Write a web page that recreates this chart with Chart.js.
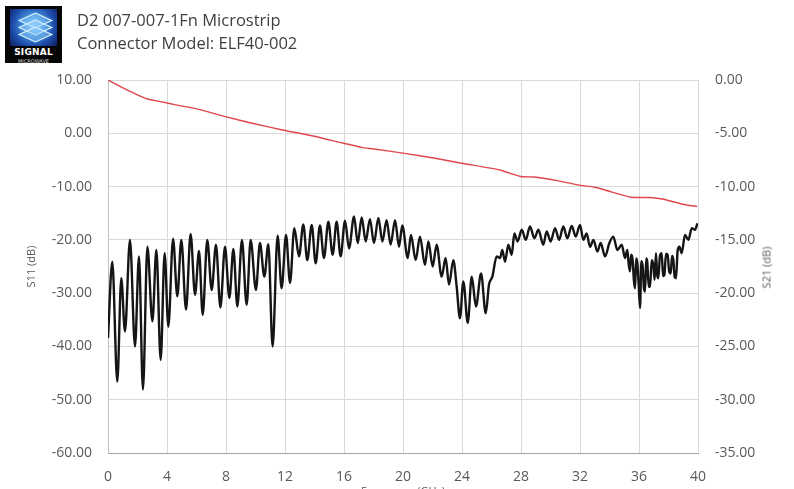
<!DOCTYPE html>
<html>
<head>
<meta charset="utf-8">
<script src="https://cdn.jsdelivr.net/npm/chart.js@4.4.0/dist/chart.umd.min.js"></script>
<style>
	html, body { margin: 0; padding: 0; width: 794px; height: 489px; overflow: hidden; background: #fff; }
	#wrap { position: absolute; left: 0; top: 0; width: 794px; height: 500px; }
	.logo { position: absolute; left: 5px; top: 6px; width: 57px; height: 57px; background: #060606; overflow: hidden; }
	.logo .pic { position: absolute; left: 5px; top: 3px; width: 47px; height: 37px;
		background: radial-gradient(circle at 50% 45%, #9fdcff 0%, #4a9be0 30%, #1f4fae 65%, #0c1d5e 100%); }
	.logo .dia { position: absolute; left: 13px; width: 21px; height: 21px; border: 2px solid #d5efff;
		background: rgba(140, 200, 250, 0.45); transform: scaleY(0.45) rotate(45deg); }
	.logo .big { position: absolute; left: 0; width: 57px; top: 41px; text-align: center; color: #fff;
		font: bold 9px 'DejaVu Sans', sans-serif; letter-spacing: 0.2px; }
	.logo .small { position: absolute; left: 0; width: 57px; top: 52px; text-align: center; color: #ddd;
		font: 5px 'DejaVu Sans', sans-serif; }
	.ttl { position: absolute; left: 77px; font: 16.5px 'Open Sans', sans-serif; color: #3f3f3f; white-space: nowrap; }
	.ytitle2 { position: absolute; left: 726px; top: 260px; width: 80px; text-align: center;
		font: 11px 'Open Sans', sans-serif; color: #595959; transform: rotate(-90deg); }
</style>
</head>
<body>
<div id="wrap"><canvas id="chart1" width="794" height="500"></canvas></div>
<div class="logo">
	<div class="pic">
		<div class="dia" style="top:-1px"></div>
		<div class="dia" style="top:6px"></div>
		<div class="dia" style="top:13px"></div>
	</div>
	<div class="big">SIGNAL</div>
	<div class="small">MICROWAVE</div>
</div>
<div class="ttl" style="top:8px">D2 007-007-1Fn Microstrip</div>
<div class="ttl" style="top:31px">Connector Model: ELF40-002</div>
<div class="ytitle2">S21 (dB)</div>

<script>
// S11 readings (GHz, dB)
var s11Freq = [0, 0.29, 0.63, 0.90, 1.15, 1.49, 1.83, 2.10, 2.37, 2.67, 3.01, 3.28, 3.57, 3.84, 4.09, 4.41, 4.70, 4.97,
	5.29, 5.60, 5.90, 6.17, 6.42, 6.73, 7.03, 7.32, 7.62, 7.93, 8.23, 8.50, 8.77, 9.08, 9.40, 9.67,
	10.03, 10.30, 10.60, 10.87, 11.16, 11.50, 11.77, 12.07, 12.34, 12.63, 12.95, 13.24, 13.51, 13.81, 14.08, 14.37,
	14.64, 14.94, 15.23, 15.50, 15.77, 16.07, 16.34, 16.68, 16.93, 17.20, 17.47, 17.76, 18.03, 18.33, 18.60, 18.89,
	19.16, 19.46, 19.73, 19.95, 20.32, 20.54, 20.86, 21.15, 21.49, 21.72, 22.01, 22.28, 22.62, 22.89, 23.12, 23.41,
	23.64, 23.86, 24.09, 24.39, 24.66, 24.95, 25.29, 25.61, 25.83, 26.06, 26.35, 26.58, 26.73, 26.92, 27.14, 27.37,
	27.55, 27.77, 28.05, 28.32, 28.61, 28.91, 29.18, 29.51, 29.74, 30.01, 30.31, 30.58, 30.87, 31.14, 31.44, 31.71,
	32.00, 32.23, 32.45, 32.68, 32.91, 33.18, 33.40, 33.70, 33.99, 34.26, 34.53, 34.83, 35.05,
	35.21, 35.30, 35.39, 35.47, 35.57, 35.65, 35.73, 35.81, 35.89, 35.98, 36.07, 36.16, 36.25, 36.33, 36.41, 36.49,
	36.56, 36.66, 36.75, 36.86, 36.97, 37.06, 37.15, 37.23, 37.31, 37.42, 37.54, 37.63, 37.72, 37.83, 37.94, 38.05,
	38.15, 38.24, 38.33, 38.42, 38.51, 38.62, 38.74, 38.89, 39.12, 39.35, 39.58, 39.80, 39.96];
var s11Db = [-38.4, -24.1, -46.6, -27.2, -37.2, -20.0, -40.0, -23.1, -48.1, -21.3, -35.3, -21.9, -42.5, -22.5, -36.3, -19.8, -30.6, -20.0,
	-33.1, -18.9, -30.3, -22.1, -34.1, -20.0, -29.4, -20.9, -32.7, -21.3, -30.9, -21.7, -32.5, -20.0, -32.2, -20.0,
	-29.4, -20.6, -26.9, -20.8, -40.0, -19.2, -29.1, -19.1, -28.1, -17.8, -23.1, -17.1, -23.8, -17.2, -24.4, -17.3,
	-23.4, -16.6, -22.8, -16.6, -23.1, -16.4, -21.6, -15.6, -20.6, -15.8, -20.3, -16.1, -20.6, -15.9, -20.3, -16.3,
	-20.9, -16.3, -21.3, -17.3, -23.4, -19.1, -23.8, -19.4, -24.7, -20.3, -25.0, -20.9, -26.9, -23.4, -28.4, -23.8,
	-28.8, -34.7, -27.8, -35.6, -26.9, -32.5, -26.3, -33.8, -28.4, -26.9, -23.1, -23.4, -21.9, -24.1, -20.9, -22.8,
	-18.8, -20.3, -18.1, -20.0, -17.5, -19.7, -18.1, -20.9, -18.4, -20.3, -17.8, -20.0, -17.5, -19.7, -17.4, -19.4,
	-17.2, -20.0, -18.8, -21.3, -20.0, -22.2, -20.6, -23.1, -20.6, -19.4, -21.9, -20.9, -23.4,
	-21.9, -24.5, -25.9, -22.8, -23.8, -27.5, -29.1, -23.5, -24.4, -28.5, -32.8, -24.0, -25.0, -29.0, -29.7, -23.5,
	-24.1, -28.8, -28.8, -23.8, -24.7, -27.5, -22.5, -26.5, -27.2, -23.0, -22.5, -26.8, -26.6, -22.6, -22.8, -26.0,
	-26.3, -23.0, -23.8, -27.0, -27.2, -22.0, -21.3, -22.5, -19.1, -20.0, -17.8, -18.1, -16.9];

// S21 readings (GHz, dB)
var s21Freq = [0, 0.98, 2.0, 2.66, 3.57, 4.6, 6.15, 7.96, 9.77, 11.83, 13.9, 15.97, 17.26, 18.04, 20.1, 22.17, 23.98,
	26.56, 27.98, 28.89, 30.44, 31.86, 33.02, 34.06, 35.48, 36.64, 37.67, 38.97, 39.95];
var s21Db = [0, -0.72, -1.4, -1.78, -2.03, -2.34, -2.75, -3.44, -4.06, -4.69, -5.25, -5.94, -6.34, -6.47, -6.88, -7.34, -7.81,
	-8.44, -9.06, -9.1, -9.44, -9.84, -10.06, -10.47, -11.0, -11.03, -11.19, -11.66, -11.88];

var xTicks = [0, 4, 8, 12, 16, 20, 24, 28, 32, 36, 40];
var s11Ticks = [10, 0, -10, -20, -30, -40, -50, -60];
var s21Ticks = [0, -5, -10, -15, -20, -25, -30, -35];

function pairs(xs, ys) {
	return xs.map(function(x, i) { return { x: x, y: ys[i] }; });
}

var tickFont = { family: 'Open Sans', size: 14 };
var tickColor = '#595959';

var ctx = document.getElementById('chart1');
window.chart1 = new Chart(ctx, {
	type: 'line',
	data: {
		datasets: [{
			label: 'S21',
			data: pairs(s21Freq, s21Db),
			yAxisID: 'y1',
			borderColor: '#e0474c',
			borderWidth: 1.4,
			pointRadius: 0,
			tension: 0.2
		}, {
			label: 'S11',
			data: pairs(s11Freq, s11Db),
			yAxisID: 'y',
			borderColor: '#151515',
			borderWidth: 2.4,
			pointRadius: 0,
			cubicInterpolationMode: 'monotone'
		}]
	},
	options: {
		responsive: false,
		animation: false,
		layout: { padding: { top: 80, left: 0, right: 0, bottom: 0 } },
		plugins: { legend: { display: false }, tooltip: { enabled: false } },
		scales: {
			x: {
				type: 'linear', min: 0, max: 40,
				afterBuildTicks: function(s) { s.ticks = xTicks.map(function(v) { return { value: v }; }); },
				ticks: { autoSkip: false, maxRotation: 0, padding: 16, color: tickColor, font: tickFont },
				grid: { color: '#d9d9d9', drawTicks: false },
				border: { color: '#a6a6a6' },
				title: { display: true, text: 'Frequency (GHz)', color: '#595959', font: { family: 'Open Sans', size: 11 }, padding: { top: 0, bottom: 2 } },
				afterFit: function(s) { s.height = 47; }
			},
			y: {
				position: 'left', min: -60, max: 10,
				afterBuildTicks: function(s) { s.ticks = s11Ticks.map(function(v) { return { value: v }; }); },
				ticks: { padding: 16, color: tickColor, font: tickFont,
					callback: function(v) { return v.toFixed(2); } },
				grid: { color: '#d9d9d9', drawTicks: false },
				border: { color: '#bfbfbf' },
				title: { display: true, text: 'S11 (dB)', color: '#595959', font: { family: 'Open Sans', size: 11 }, padding: { top: 25 } },
				afterFit: function(s) { s.width = 108; }
			},
			y1: {
				position: 'right', min: -35, max: 0,
				afterBuildTicks: function(s) { s.ticks = s21Ticks.map(function(v) { return { value: v }; }); },
				ticks: { padding: 17, color: tickColor, font: tickFont,
					callback: function(v) { return v.toFixed(2); } },
				grid: { display: false, drawTicks: false },
				border: { display: false },
				afterFit: function(s) { s.width = 96; }
			}
		}
	}
});
</script>
</body>
</html>
